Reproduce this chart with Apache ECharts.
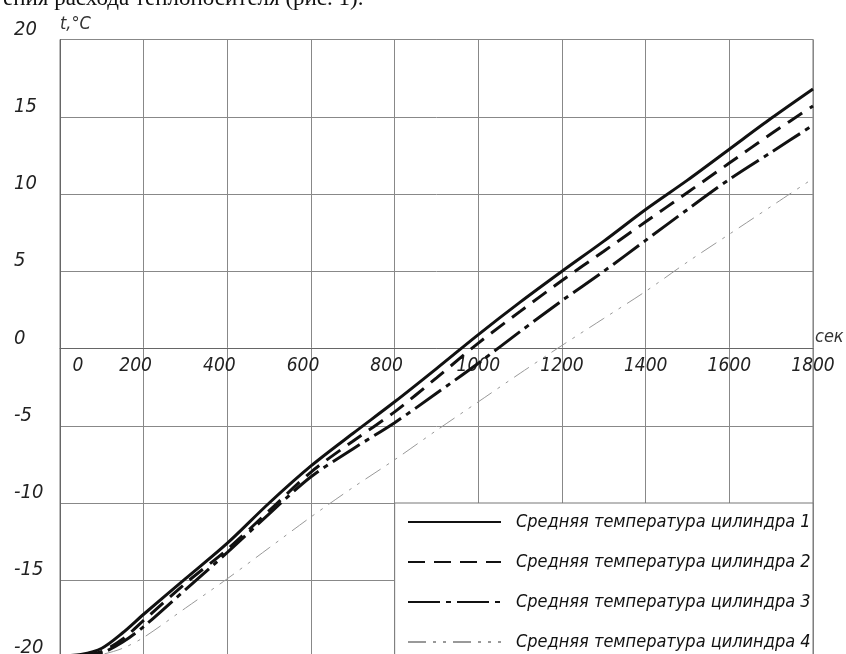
<!DOCTYPE html>
<html>
<head>
<meta charset="utf-8">
<script src="https://cdn.jsdelivr.net/npm/echarts@6/dist/echarts.min.js"></script>
<style>
html,body{margin:0;padding:0;background:#fff;}
#c{width:846px;height:654px;}
</style>
</head>
<body>
<div id="c"></div>
<script>
const headerText = 'ения расхода теплоносителя (рис. 1).';
const seriesNames = [
  'Средняя температура цилиндра 1',
  'Средняя температура цилиндра 2',
  'Средняя температура цилиндра 3',
  'Средняя температура цилиндра 4'
];
const times = [0, 50, 100, 150, 200, 300, 400, 500, 600, 700, 800, 900, 1000, 1100, 1200, 1300, 1400, 1500, 1600, 1700, 1800];
const cyl1 = [-19.9, -19.8, -19.4, -18.4, -17.2, -14.9, -12.6, -10.0, -7.6, -5.5, -3.45, -1.3, 0.9, 3.0, 5.0, 6.95, 9.0, 10.9, 12.9, 14.9, 16.8];
const cyl2 = [-19.95, -19.9, -19.6, -18.8, -17.6, -15.2, -13.0, -10.5, -8.0, -6.0, -4.1, -1.9, 0.35, 2.4, 4.4, 6.3, 8.2, 10.1, 12.0, 13.9, 15.7];
const cyl3 = [-20.0, -19.95, -19.7, -19.0, -18.0, -15.6, -13.2, -10.7, -8.3, -6.5, -4.8, -2.9, -0.95, 1.1, 3.1, 5.0, 7.0, 9.0, 10.95, 12.7, 14.45];
const cyl4 = [-20.0, -19.95, -19.8, -19.4, -18.7, -16.8, -14.9, -12.9, -10.9, -9.0, -7.2, -5.3, -3.45, -1.6, 0.2, 1.95, 3.7, 5.6, 7.4, 9.2, 11.0];
const xTicks = [0, 200, 400, 600, 800, 1000, 1200, 1400, 1600, 1800];
const yTicks = [-20, -15, -10, -5, 0, 5, 10, 15, 20];
const legendBoxX = [800, 1800];
const legendBoxY = [-20, -10];

const FONT = '"Liberation Sans Narrow", "DejaVu Sans Condensed", "Liberation Sans", sans-serif';
const allSeries = [cyl1, cyl2, cyl3, cyl4];
const styles = [
  {color: '#111', width: 3, type: 'solid'},
  {color: '#111', width: 3, type: [17, 9]},
  {color: '#111', width: 3, type: [32, 6, 5, 6]},
  {color: '#999', width: 1, type: [18, 7, 3, 7, 3, 7]}
];

const GRID_TOP = 39.5, GRID_H = 618;

const chart = echarts.init(document.getElementById('c'), null, {renderer: 'canvas'});
const series = allSeries.map((vals, i) => ({
  name: seriesNames[i],
  type: 'line',
  data: times.map((t, k) => [t, vals[k]]),
  symbol: 'none',
  smooth: 0.3,
  lineStyle: styles[i],
  itemStyle: {color: styles[i].color},
  z: 5,
  markArea: i === 0 ? {
    silent: true,
    itemStyle: {color: '#fff', borderColor: '#777', borderWidth: 1, opacity: 1},
    data: [[{coord: [legendBoxX[0], legendBoxY[1]]}, {coord: [legendBoxX[1], legendBoxY[0]]}]]
  } : undefined
}));

chart.setOption({
  animation: false,
  backgroundColor: '#fff',
  title: {
    text: headerText,
    left: -2,
    top: -18,
    textStyle: {fontFamily: '"Liberation Serif", serif', fontSize: 23, fontWeight: 'normal', color: '#111'}
  },
  grid: {
    left: 60, top: GRID_TOP, width: 753, height: GRID_H,
    outerBoundsMode: 'none', containLabel: false,
    show: true, borderColor: '#777', borderWidth: 1, backgroundColor: 'transparent'
  },
  xAxis: {
    type: 'value', min: 0, max: 1800, interval: 200,
    position: 'bottom', offset: -GRID_H / 2,
    name: 'сек', nameLocation: 'end', nameGap: 2,
    nameTextStyle: {fontFamily: FONT, fontStyle: 'italic', fontSize: 18, color: '#333', align: 'left', verticalAlign: 'bottom', padding: [0, 0, 2, 0]},
    axisLine: {show: true, onZero: false, lineStyle: {color: '#666', width: 1}},
    axisTick: {show: false},
    splitLine: {show: true, lineStyle: {color: '#888', width: 1}},
    axisLabel: {
      show: true, margin: 8, align: 'center',
      fontFamily: FONT, fontStyle: 'italic', fontSize: 19, color: '#222',
      formatter: v => {
        if (v === 0) return '{z|0}';
        if (v < 1000) return '{s|' + v + '}';
        return '{n|' + v + '}';
      },
      rich: {
        z: {fontFamily: FONT, fontStyle: 'italic', fontSize: 19, color: '#222', padding: [0, 0, 0, 36]},
        s: {fontFamily: FONT, fontStyle: 'italic', fontSize: 19, color: '#222', padding: [0, 16, 0, 0]},
        n: {fontFamily: FONT, fontStyle: 'italic', fontSize: 19, color: '#222'}
      }
    }
  },
  yAxis: {
    type: 'value', min: -20, max: 20, interval: 5,
    name: 't,°C', nameLocation: 'end', nameGap: 6,
    nameTextStyle: {fontFamily: FONT, fontStyle: 'italic', fontSize: 18, color: '#333', align: 'left'},
    axisLine: {show: true, lineStyle: {color: '#666', width: 1}},
    axisTick: {show: false},
    splitLine: {show: true, lineStyle: {color: '#888', width: 1}},
    axisLabel: {
      show: true, margin: 46, align: 'left', verticalAlign: 'bottom',
      fontFamily: FONT, fontStyle: 'italic', fontSize: 20, color: '#222',
      formatter: v => yTicks.includes(v) ? String(v) : ''
    }
  },
  legend: {
    show: true, orient: 'vertical', left: 407, top: 512, height: 200, padding: 0,
    itemWidth: 93, itemHeight: 20, itemGap: 20,
    itemStyle: {color: 'rgba(0,0,0,0)', borderColor: 'rgba(0,0,0,0)', borderWidth: 0, opacity: 0},
    textStyle: {fontFamily: FONT, fontStyle: 'italic', fontSize: 18, color: '#111', lineHeight: 20, padding: [0, 0, 0, 10]},
    data: seriesNames
  },
  series: series
});
</script>
</body>
</html>
